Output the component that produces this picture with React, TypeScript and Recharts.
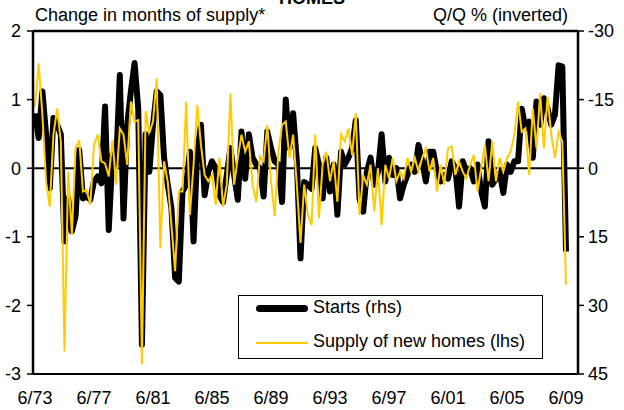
import { LineChart, Line, XAxis, YAxis, ReferenceLine } from "recharts";

// quarterly, 6/73 .. 6/09
const quarters: string[] = [];
for (let k = 0; k < 145; k++) {
  const m = [6, 9, 12, 3][k % 4];
  const yr = 1973 + Math.floor((k + 2) / 4);
  quarters.push(`${m}/${String(yr % 100).padStart(2, "0")}`);
}

const xTicks = ["6/73", "6/77", "6/81", "6/85", "6/89", "6/93", "6/97", "6/01", "6/05", "6/09"];
const leftTicks = [-3, -2, -1, 0, 1, 2];
const rightTicks = [-30, -15, 0, 15, 30, 45];

// change in months of supply (lhs)
const supply = [
  0.9, 1.53, 0.78, -0.2, -0.56, 0.49, 0.87, 0.39, -2.67, -0.05,
  -0.97, 0.29, 0.41, -0.34, -0.32, -0.53, 0.34, 0.49, 0.1, 0.07,
  -0.12, 0.41, -0.24, 0.58, 0.49, 0.05, 0.97, 0.68, 0.7, -2.86,
  0.83, 0.51, 0.68, 1.31, -1.17, 0.1, -0.2, -0.83, -1.5, -0.34,
  -0.34, 0.97, -0.68, 0.05, 0.92, 0.34, -0.1, -0.19, -0.1, -0.53,
  0.15, -0.56, -0.24, 1.09, -0.24, 0.15, 0.49, 0.24, 0.39, -0.24,
  -0.49, 0.17, 0.1, 0.63, -0.19, -0.7, 0.24, 0.63, 0.68, 0.15,
  0.49, -0.24, -1.09, -0.24, -0.68, -0.83, 0.49, -0.73, 0.05, 0.24,
  -0.19, 0.1, -0.49, 0.49, 0.39, 0.58, 0.19, 0.8, -0.68, -0.1,
  -0.24, 0.05, -0.63, 0, -0.83, 0.05, -0.15, 0.15, -0.19, -0.05,
  -0.15, 0.15, -0.05, 0.15, -0.05, 0.15, 0.29, -0.05, 0.15, -0.34,
  0.05, -0.24, 0.29, 0.32, -0.1, 0.1, -0.05, -0.15, 0.05, 0.19,
  -0.34, 0, 0.34, -0.19, 0.39, -0.19, 0.15, -0.05, 0.15, 0.24,
  0.49, 0.97, 0.53, 0.58, -0.1, 0.87, 0.29, 1.09, 0.29, 1.04,
  0.49, 0.15, 0.53, 0.39, -1.7,
];

// housing starts, Q/Q % (rhs, inverted)
const starts = [
  -12, -6.6, -16.8, -7.4, 4.4, -11, -9.5, -7.4, 16, 6.6,
  13.8, 10.5, -4, 6.6, 6.2, 6.9, 2.9, 1.8, 3.3, -13.5,
  13.5, -2.9, -0.8, -20.4, 11, -9.5, -16.8, -23, -13, 38.6,
  -7.4, 0.8, -9.5, -16.8, -16, -2.3, 3.6, 8.7, 24, 24.8,
  5.1, 3.6, -3.6, 16, -3.6, -9.5, 5.9, 0.8, -1.5, 0,
  5.9, 7.4, 1.5, -4.4, 1.5, 6.9, -8, 2.3, -7.4, -2.3,
  -0.8, 0, 6.2, -8, -4.4, -1.5, -0.8, 7.4, -15, -4.4,
  -12, -1.5, 19.7, 3, 3.6, 4.5, -4.4, -0.8, 6.6, -2.3,
  5.1, -0.8, 10.2, -3.6, -0.8, -2.3, -4.4, -10.5, 6.6, 9.5,
  0.8, -2.3, 3.6, 0.8, -7.4, 2.9, -2.3, 1.5, 0, 6.6,
  3.6, 1.5, -0.8, 0.8, -5.1, -1.5, 2.9, -3.6, -3.6, 0.8,
  2.9, 1.5, 2.3, -1.5, 0, 8.4, -1.5, 0.8, 0, 2.9,
  -0.8, 5.1, 8.4, -5.9, 3.6, 2.3, 0.8, 5.4, -0.8, 0.8,
  -1.5, -1.5, -13, -8.7, -10.2, -2.3, -14.6, -9.5, -15.3, -13,
  -9.5, -11.7, -22.5, -22.2, 18.2,
];

const data = quarters.map((q, i) => ({ q, supply: supply[i], starts: starts[i] }));

const font = "'Liberation Sans', Arial, sans-serif";
const tick = { fontSize: 18, fill: "#000", fontFamily: font };

export default function App() {
  return (
    <div style={{ position: "absolute", left: 0, top: 0, width: 624, height: 410, overflow: "hidden", background: "#fff", fontFamily: font }}>
      <div style={{ position: "absolute", top: -12, left: 0, width: 624, textAlign: "center", fontWeight: "bold", fontSize: 18 }}>HOMES</div>
      <div style={{ position: "absolute", top: 5, left: 35, fontSize: 18 }}>Change in months of supply*</div>
      <div style={{ position: "absolute", top: 5, right: 56, fontSize: 18 }}>Q/Q % (inverted)</div>
      <LineChart width={624} height={410} data={data} margin={{ top: 31, right: 0, bottom: 0, left: 0 }}>
        <XAxis
          dataKey="q"
          ticks={xTicks}
          interval={0}
          tickLine={false}
          tickSize={6}
          tickMargin={11}
          height={36}
          padding={{ left: 2, right: 12 }}
          axisLine={{ stroke: "#000", strokeWidth: 2 }}
          tick={tick}
        />
        <YAxis
          yAxisId="left"
          domain={[-3, 2]}
          ticks={leftTicks}
          width={33}
          tickSize={6}
          tickMargin={6}
          axisLine={{ stroke: "#000", strokeWidth: 2.5 }}
          tickLine={{ stroke: "#000", strokeWidth: 1.5 }}
          tick={tick}
        />
        <YAxis
          yAxisId="right"
          orientation="right"
          reversed
          domain={[-30, 45]}
          ticks={rightTicks}
          width={46}
          tickSize={6}
          tickMargin={4}
          axisLine={{ stroke: "#000", strokeWidth: 2.5 }}
          tickLine={{ stroke: "#000", strokeWidth: 1.5 }}
          tick={tick}
        />
        <ReferenceLine yAxisId="left" y={2} stroke="#000" strokeWidth={2.5} />
        <ReferenceLine yAxisId="left" y={0} stroke="#000" strokeWidth={2} />
        <Line yAxisId="right" dataKey="starts" stroke="#000" strokeWidth={6} strokeLinejoin="round" dot={false} isAnimationActive={false} />
        <Line yAxisId="left" dataKey="supply" stroke="#FFCC00" strokeWidth={2} dot={false} isAnimationActive={false} />
      </LineChart>
      <div style={{ position: "absolute", left: 238, top: 295, width: 305, height: 64, boxSizing: "border-box", border: "1px solid #000", background: "#fff", fontSize: 18 }}>
        <div style={{ position: "absolute", left: 17, top: 9, width: 52, height: 7, background: "#000", borderRadius: 3.5 }} />
        <div style={{ position: "absolute", left: 74, top: 1 }}>Starts (rhs)</div>
        <div style={{ position: "absolute", left: 17, top: 46, width: 52, height: 2, background: "#FFCC00" }} />
        <div style={{ position: "absolute", left: 74, top: 35 }}>Supply of new homes (lhs)</div>
      </div>
    </div>
  );
}
